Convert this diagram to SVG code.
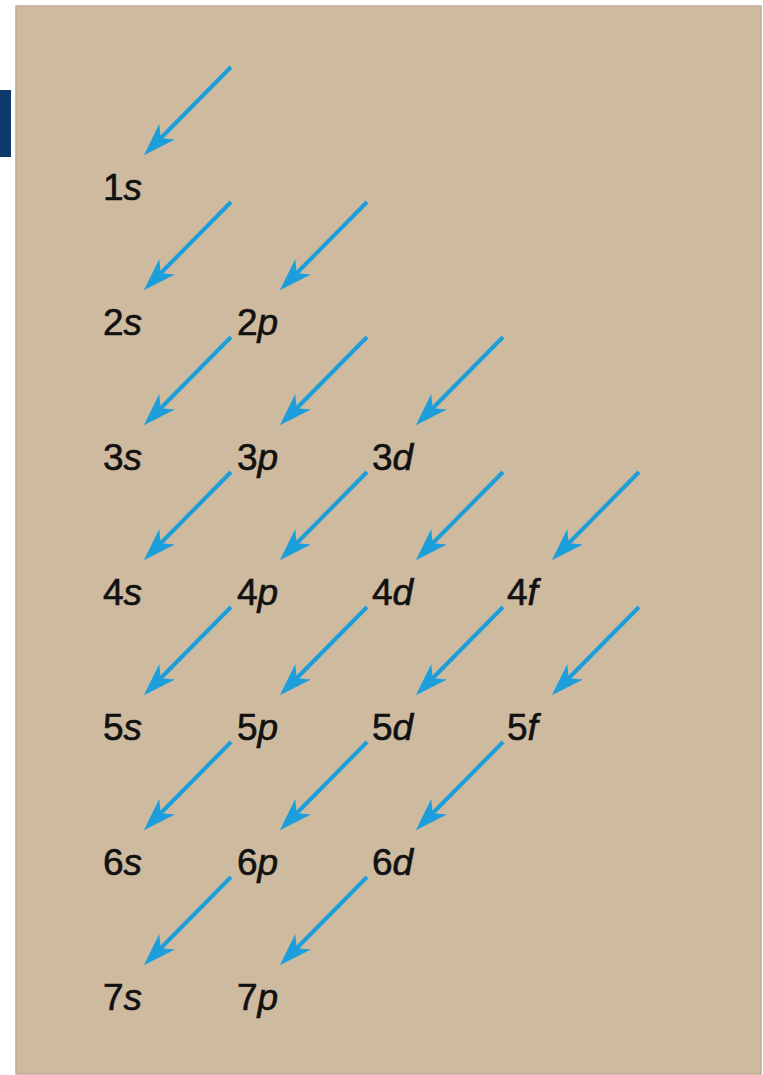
<svg xmlns="http://www.w3.org/2000/svg" width="763" height="1075" viewBox="0 0 763 1075">
<style>
.lbl{font-family:"Liberation Sans",Arial,Helvetica,sans-serif;font-size:37px;fill:#111;stroke:#111;stroke-width:0.6}
.it{font-style:italic}
.arr{stroke:#1c9edb;stroke-width:4;fill:none;marker-end:url(#head)}
</style>
<defs>
<marker id="head" markerUnits="userSpaceOnUse" markerWidth="40" markerHeight="30" viewBox="0 0 40 30" refX="20" refY="12" orient="auto">
<path d="M0,1 L33,12 L0,23 L9,12 Z" fill="#1c9edb"/>
</marker>
</defs>
<rect x="0" y="0" width="763" height="1075" fill="#ffffff"/>
<rect id="panel" x="16" y="6" width="745" height="1068" fill="#cdba9f" stroke="#c6a69c" stroke-width="1.5"/>
<rect id="tab" x="0" y="90" width="11" height="67" fill="#0b3a6b"/>
<g id="connectors">
<line class="arr" x1="231" y1="67" x2="153" y2="146"/>
<line class="arr" x1="231" y1="202" x2="153" y2="281"/>
<line class="arr" x1="367" y1="202" x2="289" y2="281"/>
<line class="arr" x1="231" y1="337" x2="153" y2="416"/>
<line class="arr" x1="367" y1="337" x2="289" y2="416"/>
<line class="arr" x1="503" y1="337" x2="425" y2="416"/>
<line class="arr" x1="231" y1="472" x2="153" y2="551"/>
<line class="arr" x1="367" y1="472" x2="289" y2="551"/>
<line class="arr" x1="503" y1="472" x2="425" y2="551"/>
<line class="arr" x1="639" y1="472" x2="561" y2="551"/>
<line class="arr" x1="231" y1="607" x2="153" y2="686"/>
<line class="arr" x1="367" y1="607" x2="289" y2="686"/>
<line class="arr" x1="503" y1="607" x2="425" y2="686"/>
<line class="arr" x1="639" y1="607" x2="561" y2="686"/>
<line class="arr" x1="231" y1="742" x2="153" y2="821"/>
<line class="arr" x1="367" y1="742" x2="289" y2="821"/>
<line class="arr" x1="503" y1="742" x2="425" y2="821"/>
<line class="arr" x1="231" y1="877" x2="153" y2="956"/>
<line class="arr" x1="367" y1="877" x2="289" y2="956"/>
</g>
<g id="n1s"><text class="lbl" x="103" y="200">1<tspan class="it">s</tspan></text></g>
<g id="n2s"><text class="lbl" x="103" y="335">2<tspan class="it">s</tspan></text></g>
<g id="n2p"><text class="lbl" x="237" y="335">2<tspan class="it">p</tspan></text></g>
<g id="n3s"><text class="lbl" x="103" y="470">3<tspan class="it">s</tspan></text></g>
<g id="n3p"><text class="lbl" x="237" y="470">3<tspan class="it">p</tspan></text></g>
<g id="n3d"><text class="lbl" x="372" y="470">3<tspan class="it">d</tspan></text></g>
<g id="n4s"><text class="lbl" x="103" y="605">4<tspan class="it">s</tspan></text></g>
<g id="n4p"><text class="lbl" x="237" y="605">4<tspan class="it">p</tspan></text></g>
<g id="n4d"><text class="lbl" x="372" y="605">4<tspan class="it">d</tspan></text></g>
<g id="n4f"><text class="lbl" x="507" y="605">4<tspan class="it">f</tspan></text></g>
<g id="n5s"><text class="lbl" x="103" y="740">5<tspan class="it">s</tspan></text></g>
<g id="n5p"><text class="lbl" x="237" y="740">5<tspan class="it">p</tspan></text></g>
<g id="n5d"><text class="lbl" x="372" y="740">5<tspan class="it">d</tspan></text></g>
<g id="n5f"><text class="lbl" x="507" y="740">5<tspan class="it">f</tspan></text></g>
<g id="n6s"><text class="lbl" x="103" y="875">6<tspan class="it">s</tspan></text></g>
<g id="n6p"><text class="lbl" x="237" y="875">6<tspan class="it">p</tspan></text></g>
<g id="n6d"><text class="lbl" x="372" y="875">6<tspan class="it">d</tspan></text></g>
<g id="n7s"><text class="lbl" x="103" y="1010">7<tspan class="it">s</tspan></text></g>
<g id="n7p"><text class="lbl" x="237" y="1010">7<tspan class="it">p</tspan></text></g>
</svg>
